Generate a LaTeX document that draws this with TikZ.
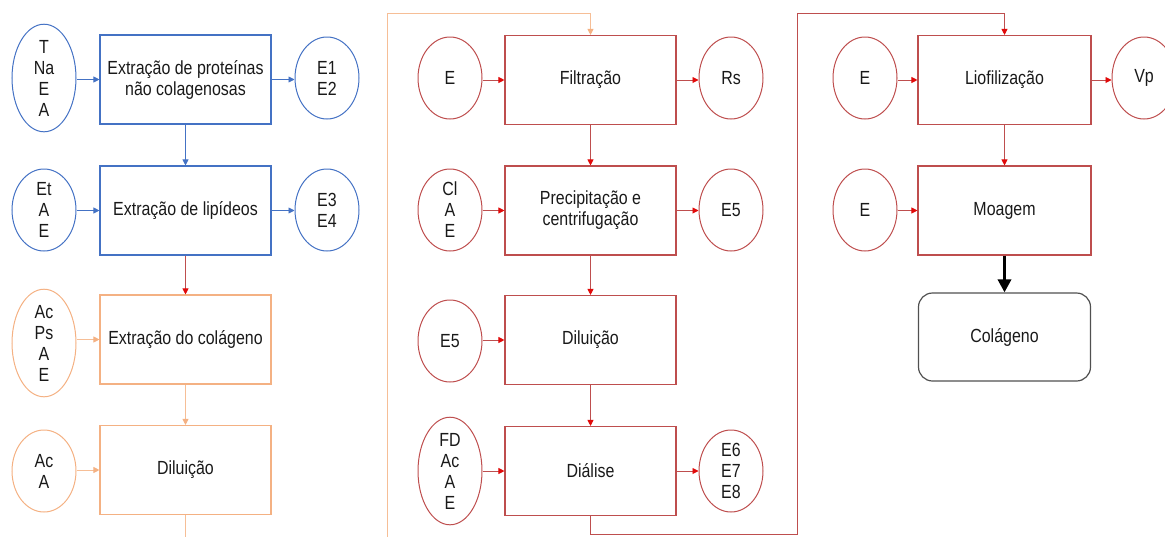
\documentclass[tikz,border=0pt]{standalone}
\usepackage{fontspec}
\setmainfont{Liberation Sans}[FakeStretch=0.84]
\usetikzlibrary{shapes.geometric,arrows.meta}

\definecolor{bluebox}{RGB}{68,114,196}
\definecolor{orangebox}{RGB}{244,177,131}
\definecolor{orangeline}{RGB}{246,190,150}
\definecolor{redbox}{RGB}{190,78,78}
\definecolor{redtip}{RGB}{225,10,10}
\definecolor{graybox}{RGB}{80,80,80}
\definecolor{inktext}{RGB}{25,25,25}

\tikzset{
  txt/.style={font=\fontsize{19}{21}\selectfont, text=inktext, align=center},
  stepbox/.style={txt, draw, line width=1.1pt, minimum width=171pt, minimum height=89pt, inner sep=0pt},
  blob/.style={txt, ellipse, draw, line width=1.0pt, minimum width=64pt, minimum height=82pt, inner sep=0pt},
  bluestyle/.style={draw=bluebox},
  orangestyle/.style={draw=orangebox},
  redstyle/.style={draw=redbox},
  conn/.style={line width=0.9pt, -{Triangle[length=6pt,width=6pt]}},
  bconn/.style={conn, draw=bluebox, -{Triangle[length=6pt,width=6pt,color=bluebox]}},
  oconn/.style={conn, draw=orangeline, -{Triangle[length=6pt,width=6pt,color=orangebox]}},
  rconn/.style={conn, draw=redbox, -{Triangle[length=6pt,width=6pt,color=redtip]}},
  bigarrow/.style={line width=3.6pt, draw=black, -{Triangle[length=13pt,width=13pt]}}
}

\begin{document}
\begin{tikzpicture}[x=1pt,y=-1pt]
\useasboundingbox (0,0) rectangle (1165,536);
\clip (0,0) rectangle (1165,536);

% ---- first column: blue and orange steps
\node[stepbox, bluestyle] (p1) at (185.5,79.5) {Extração de proteínas\\não colagenosas};
\node[blob, bluestyle] (i1) at (44,78) {T\\Na\\E\\A};
\node[blob, bluestyle] (o1) at (327,78) {E1\\E2};

\node[stepbox, bluestyle] (p2) at (185.5,210.5) {Extração de lipídeos};
\node[blob, bluestyle] (i2) at (44,210) {Et\\A\\E};
\node[blob, bluestyle] (o2) at (327,210) {E3\\E4};

\node[stepbox, orangestyle] (p3) at (185.5,339.5) {Extração do colágeno};
\node[blob, orangestyle] (i3) at (44,343) {Ac\\Ps\\A\\E};

\node[stepbox, orangestyle] (p4) at (185.5,470) {Diluição};
\node[blob, orangestyle] (i4) at (44,471) {Ac\\A};

\draw[bconn] (i1.east |- p1.west) -- (p1.west);
\draw[bconn] (p1.east) -- (o1.west |- p1.east);
\draw[bconn] (i2.east |- p2.west) -- (p2.west);
\draw[bconn] (p2.east) -- (o2.west |- p2.east);
\draw[bconn] (p1) -- (p2);
\draw[rconn] (p2) -- (p3);
\draw[oconn] (i3.east |- p3.west) -- (p3.west);
\draw[oconn] (p3) -- (p4);
\draw[oconn] (i4.east |- p4.west) -- (p4.west);

% ---- second column: red steps
\node[stepbox, redstyle] (q1) at (590.5,80) {Filtração};
\node[blob, redstyle] (j1) at (450,78) {E};
\node[blob, redstyle] (k1) at (731,78) {Rs};

\node[stepbox, redstyle] (q2) at (590.5,210.5) {Precipitação e\\centrifugação};
\node[blob, redstyle] (j2) at (450,210) {Cl\\A\\E};
\node[blob, redstyle] (k2) at (731,210) {E5};

\node[stepbox, redstyle] (q3) at (590.5,340) {Diluição};
\node[blob, redstyle] (j3) at (450,341) {E5};

\node[stepbox, redstyle] (q4) at (590.5,471) {Diálise};
\node[blob, redstyle] (j4) at (450,471) {FD\\Ac\\A\\E};
\node[blob, redstyle] (k4) at (731,471) {E6\\E7\\E8};

\draw[rconn] (j1.east |- q1.west) -- (q1.west);
\draw[rconn] (q1.east) -- (k1.west |- q1.east);
\draw[rconn] (j2.east |- q2.west) -- (q2.west);
\draw[rconn] (q2.east) -- (k2.west |- q2.east);
\draw[rconn] (j3.east |- q3.west) -- (q3.west);
\draw[rconn] (j4.east |- q4.west) -- (q4.west);
\draw[rconn] (q4.east) -- (k4.west |- q4.east);
\draw[rconn] (q1) -- (q2);
\draw[rconn] (q2) -- (q3);
\draw[rconn] (q3) -- (q4);

% ---- third column
\node[stepbox, redstyle, minimum width=173pt] (r1) at (1004.5,80) {Liofilização};
\node[blob, redstyle] (m1) at (865,78) {E};
\node[blob, redstyle] (n1) at (1144,78) {Vp};

\node[stepbox, redstyle, minimum width=173pt] (r2) at (1004.5,210.5) {Moagem};
\node[blob, redstyle] (m2) at (865,210) {E};

\node[txt, draw=graybox, line width=1.2pt, rounded corners=14pt,
      minimum width=172pt, minimum height=88pt, inner sep=0pt] (col) at (1004.5,337) {Colágeno};

\draw[rconn] (m1.east |- r1.west) -- (r1.west);
\draw[rconn] (r1.east) -- (n1.west |- r1.east);
\draw[rconn] (m2.east |- r2.west) -- (r2.west);
\draw[rconn] (r1) -- (r2);
\draw[bigarrow] (r2) -- (col);

% ---- return lines between columns
\coordinate (oa) at (185.5,545);
\coordinate (ob) at (387,545);
\coordinate (oc) at (387,13);
\coordinate (od) at (590.5,13);
\draw[oconn] (p4.south) -- (oa) -- (ob) -- (oc) -- (od) -- (q1.north);

\coordinate (ra) at (590.5,534);
\coordinate (rb) at (797,534);
\coordinate (rc) at (797,13);
\coordinate (rd) at (1004.5,13);
\draw[rconn] (q4.south) -- (ra) -- (rb) -- (rc) -- (rd) -- (r1.north);
\end{tikzpicture}
\end{document}
